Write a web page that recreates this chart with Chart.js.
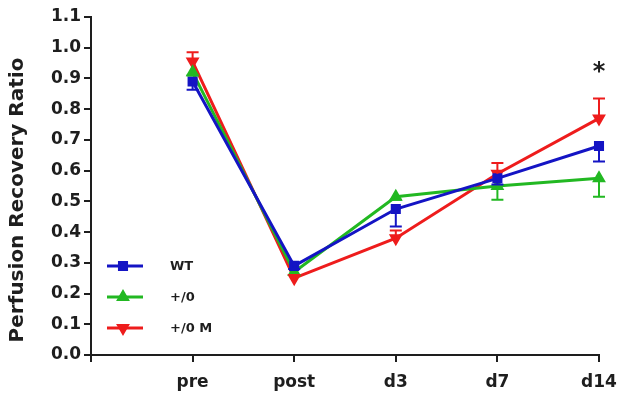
<!DOCTYPE html>
<html>
<head>
<meta charset="utf-8">
<script src="https://cdn.jsdelivr.net/npm/chart.js@4.4.1/dist/chart.umd.min.js"></script>
<style>
  html, body { margin: 0; padding: 0; background: #fff; }
  #wrap { width: 618px; height: 393px; }
</style>
</head>
<body>
<div id="wrap"><canvas id="myChart" width="618" height="393"></canvas></div>
<script>
// categories (first slot is empty so "pre" sits one step in from the y axis)
const labels = ['', 'pre', 'post', 'd3', 'd7', 'd14'];

// mean values
const wt     = [null, 0.89, 0.29, 0.475, 0.575, 0.68];
const plus0  = [null, 0.92, 0.27, 0.515, 0.55, 0.575];
const plus0M = [null, 0.955, 0.25, 0.38, 0.59, 0.77];

// error bars (only the visible half is drawn, like the original)
const wtErr     = [0, 0.027, 0.01, 0.057, 0.02, 0.05];
const plus0Err  = [0, 0.01, 0.01, 0.01, 0.045, 0.06];
const plus0MErr = [0, 0.03, 0.01, 0.025, 0.035, 0.065];
const errDir    = [-1, -1, 1];

// significance markers
const sigMarks  = ['', '', '', '', '', '*'];
const sigLevel  = 0.93;

const yTicks = [0, 0.1, 0.2, 0.3, 0.4, 0.5, 0.6, 0.7, 0.8, 0.9, 1.0, 1.1];
const yTitle = 'Perfusion Recovery Ratio';

const blue = '#1414c4';
const green = '#22b822';
const red = '#ee1c1c';
const ink = '#1e1e1e';
const fontFam = "'DejaVu Sans', Arial, sans-serif";

const errs = [wtErr, plus0Err, plus0MErr];

const errorBars = {
    id: 'errorBars',
    afterDatasetsDraw(chart) {
        const ctx = chart.ctx;
        const y = chart.scales.y;
        chart.data.datasets.forEach((ds, i) => {
            const meta = chart.getDatasetMeta(i);
            ctx.save();
            ctx.strokeStyle = ds.borderColor;
            ctx.lineWidth = 2;
            meta.data.forEach((pt, j) => {
                const v = ds.data[j];
                const e = errs[i][j];
                if (v == null || !e) return;
                const y1 = y.getPixelForValue(v + errDir[i] * e);
                ctx.beginPath();
                ctx.moveTo(pt.x, pt.y);
                ctx.lineTo(pt.x, y1);
                ctx.moveTo(pt.x - 6, y1);
                ctx.lineTo(pt.x + 6, y1);
                ctx.stroke();
            });
            ctx.restore();
        });
    }
};

const extras = {
    id: 'extras',
    afterDraw(chart) {
        const ctx = chart.ctx;
        const x = chart.scales.x;
        const y = chart.scales.y;
        const area = chart.chartArea;
        ctx.save();
        // y axis title, sitting a little below the plot centre like the original
        ctx.fillStyle = ink;
        ctx.font = 'bold 20px ' + fontFam;
        ctx.textAlign = 'center';
        ctx.textBaseline = 'middle';
        ctx.save();
        ctx.translate(18, (area.top + area.bottom) / 2 + 14);
        ctx.rotate(-Math.PI / 2);
        ctx.fillText(yTitle, 0, 0);
        ctx.restore();
        // asterisk
        ctx.font = 'bold 24px ' + fontFam;
        sigMarks.forEach((m, j) => {
            if (m) ctx.fillText(m, x.getPixelForValue(j), y.getPixelForValue(sigLevel) + 4);
        });
        // legend inside the plot, lower left
        ctx.font = 'bold 13px ' + fontFam;
        ctx.textAlign = 'left';
        chart.data.datasets.forEach((ds, i) => {
            const lx = area.left + 16;
            const ly = area.bottom - 89 + i * 31;
            ctx.strokeStyle = ds.borderColor;
            ctx.lineWidth = 3;
            ctx.beginPath();
            ctx.moveTo(lx, ly);
            ctx.lineTo(lx + 36, ly);
            ctx.stroke();
            ctx.fillStyle = ds.borderColor;
            Chart.helpers.drawPoint(ctx, {
                pointStyle: ds.pointStyle,
                rotation: ds.pointRotation || 0,
                radius: ds.pointRadius,
                borderWidth: 1
            }, lx + 16, ly);
            ctx.fillStyle = ink;
            ctx.fillText(ds.label, lx + 63, ly + 1);
        });
        ctx.restore();
    }
};

const axisGrid = {
    display: true,
    drawOnChartArea: false,
    drawTicks: true,
    tickLength: 7,
    color: ink,
    lineWidth: 2,
    offset: false
};

let ctx = document.getElementById('myChart').getContext('2d');
let myChart = new Chart(ctx, {
    type: 'line',
    data: {
        labels: labels,
        datasets: [
            {
                label: 'WT',
                data: wt,
                borderColor: blue,
                backgroundColor: blue,
                borderWidth: 3,
                pointStyle: 'rect',
                pointRadius: 5,
                tension: 0
            },
            {
                label: '+/0',
                data: plus0,
                borderColor: green,
                backgroundColor: green,
                borderWidth: 3,
                pointStyle: 'triangle',
                pointRadius: 5,
                tension: 0
            },
            {
                label: '+/0 M',
                data: plus0M,
                borderColor: red,
                backgroundColor: red,
                borderWidth: 3,
                pointStyle: 'triangle',
                pointRotation: 180,
                pointRadius: 5,
                tension: 0
            }
        ]
    },
    options: {
        responsive: false,
        animation: false,
        layout: { padding: { top: 17, right: 19, left: 0, bottom: 0 } },
        plugins: {
            legend: { display: false },
            tooltip: { enabled: false }
        },
        scales: {
            x: {
                type: 'category',
                offset: false,
                grid: axisGrid,
                border: { color: ink, width: 2 },
                ticks: {
                    color: ink,
                    font: { family: fontFam, weight: 'bold', size: 17 },
                    padding: 10,
                    maxRotation: 0,
                    autoSkip: false
                },
                afterFit(scale) {
                    scale.height = 38;
                    scale.paddingRight = 0;
                }
            },
            y: {
                type: 'linear',
                min: 0,
                max: 1.1,
                afterBuildTicks(scale) { scale.ticks = yTicks.map(v => ({ value: v })); },
                grid: axisGrid,
                border: { color: ink, width: 2 },
                ticks: {
                    color: ink,
                    font: { family: fontFam, weight: 'bold', size: 17 },
                    padding: 3,
                    callback: v => v.toFixed(1)
                },
                afterFit(scale) { scale.width = 91; }
            }
        }
    },
    plugins: [errorBars, extras]
});
</script>
</body>
</html>
